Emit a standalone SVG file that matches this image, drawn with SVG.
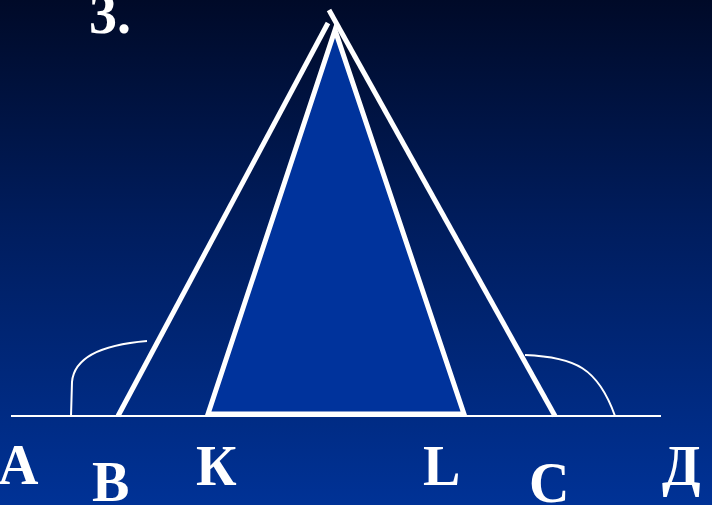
<svg xmlns="http://www.w3.org/2000/svg" width="712" height="505" viewBox="0 0 712 505">
<defs>
<linearGradient id="bg" x1="0" y1="0" x2="0" y2="1">
<stop offset="0" stop-color="#000a28"/>
<stop offset="0.45" stop-color="#001d5e"/>
<stop offset="1" stop-color="#003296"/>
</linearGradient>
<style>
.lbl{font-family:"Liberation Serif","Times New Roman",serif;font-weight:bold;fill:#fff;font-size:56px}
.thin{fill:none;stroke:#fff;stroke-width:2}
.thick{fill:none;stroke:#fff;stroke-width:5}
</style>
</defs>
<rect x="0" y="0" width="712" height="505" fill="url(#bg)"/>
<g id="connectors">
<line class="thin" x1="11" y1="416" x2="661" y2="416"/>
<line class="thick" x1="118" y1="416" x2="328" y2="23"/>
<line class="thick" x1="555" y1="416" x2="329" y2="10"/>
<path class="thin" d="M71,416 L72,382 Q75,347 147,341"/>
<path class="thin" d="M525,355 C575,357 598,368 615,416"/>
</g>
<g id="triangle">
<polygon points="335,30 208,414 464,414" fill="#00339c" stroke="#fff" stroke-width="5" stroke-linejoin="miter"/>
</g>
<g id="labels">
<text class="lbl" x="89" y="33" font-size="54">3.</text>
<text class="lbl" x="-2" y="484">A</text>
<text class="lbl" x="92" y="501">B</text>
<text class="lbl" x="196" y="485">К</text>
<text class="lbl" x="423" y="485">L</text>
<text class="lbl" x="529" y="502">C</text>
<text class="lbl" x="662" y="485">Д</text>
</g>
</svg>
